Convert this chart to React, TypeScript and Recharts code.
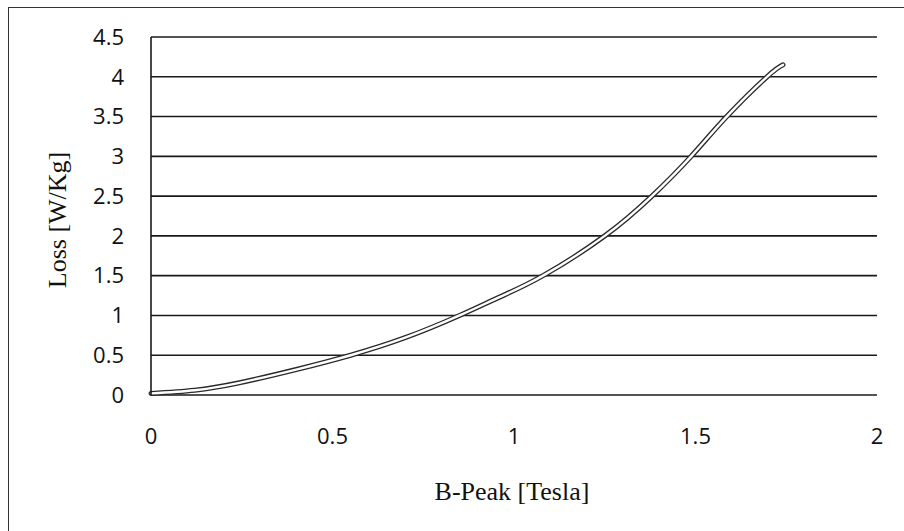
import { LineChart, Line, XAxis, YAxis, CartesianGrid } from "recharts"

// B-peak [T] vs core loss [W/kg]
const bPeak = [0, 0.12, 0.24, 0.4, 0.55, 0.7, 0.85, 0.96, 1.08, 1.25, 1.38, 1.488, 1.586, 1.697, 1.741]
const loss = [0.02, 0.06, 0.15, 0.32, 0.5, 0.72, 1.0, 1.23, 1.5, 2.0, 2.5, 3.0, 3.5, 4.0, 4.15]

const xTicks = [0, 0.5, 1, 1.5, 2]
const yTicks = [0, 0.5, 1, 1.5, 2, 2.5, 3, 3.5, 4, 4.5]

const data = bPeak.map((b, i) => ({ b, loss: loss[i] }))

const tickStyle = { fontSize: 22, fill: "#111", fontFamily: "'Open Sans', sans-serif" }
const serif = "'Liberation Serif', 'Times New Roman', serif"

function YLabel(props: any) {
  const vb = props.viewBox ?? { x: 0, y: 37, width: 151, height: 358 }
  const cx = 57
  const cy = vb.y + vb.height / 2 + 4
  return (
    <text
      x={cx}
      y={cy}
      transform={`rotate(-90 ${cx} ${cy})`}
      textAnchor="middle"
      dominantBaseline="central"
      fontFamily={serif}
      fontSize={26}
      fill="#111"
    >
      Loss [W/Kg]
    </text>
  )
}

function XLabel(props: any) {
  const vb = props.viewBox ?? { x: 151, y: 395, width: 726, height: 136 }
  return (
    <text
      x={vb.x + vb.width / 2 - 2}
      y={491}
      textAnchor="middle"
      dominantBaseline="central"
      fontFamily={serif}
      fontSize={26}
      fill="#111"
    >
      B-Peak [Tesla]
    </text>
  )
}

export default function App() {
  return (
    <div style={{ position: "absolute", left: 0, top: 0, width: 904, height: 531, background: "#fff" }}>
      {/* scanned frame, cut off on right and bottom */}
      <div
        style={{
          position: "absolute",
          left: 8,
          top: 7,
          width: 904,
          height: 531,
          borderLeft: "1.5px solid #333",
          borderTop: "1.5px solid #333",
        }}
      />
      <div style={{ position: "absolute", left: 0, top: 0 }}>
        <LineChart width={904} height={531} data={data} margin={{ top: 37, right: 27, bottom: 0, left: 0 }}>
          <CartesianGrid vertical={false} stroke="#1a1a1a" strokeWidth={1.6} />
          <XAxis
            type="number"
            dataKey="b"
            domain={[0, 2]}
            ticks={xTicks}
            height={136}
            axisLine={false}
            tickLine={false}
            tickSize={0}
            tickMargin={33}
            tick={tickStyle}
            label={<XLabel />}
          />
          <YAxis
            type="number"
            domain={[0, 4.5]}
            ticks={yTicks}
            width={151}
            axisLine={{ stroke: "#1a1a1a", strokeWidth: 1.6 }}
            tickLine={false}
            tickSize={0}
            tickMargin={27}
            tick={tickStyle}
            label={<YLabel />}
          />
          <Line
            type="natural"
            dataKey="loss"
            stroke="#2a2a2a"
            strokeWidth={5}
            strokeLinecap="round"
            dot={false}
            isAnimationActive={false}
          />
          <Line
            type="natural"
            dataKey="loss"
            stroke="#fff"
            strokeWidth={2.4}
            strokeLinecap="round"
            dot={false}
            isAnimationActive={false}
          />
        </LineChart>
      </div>
    </div>
  )
}
